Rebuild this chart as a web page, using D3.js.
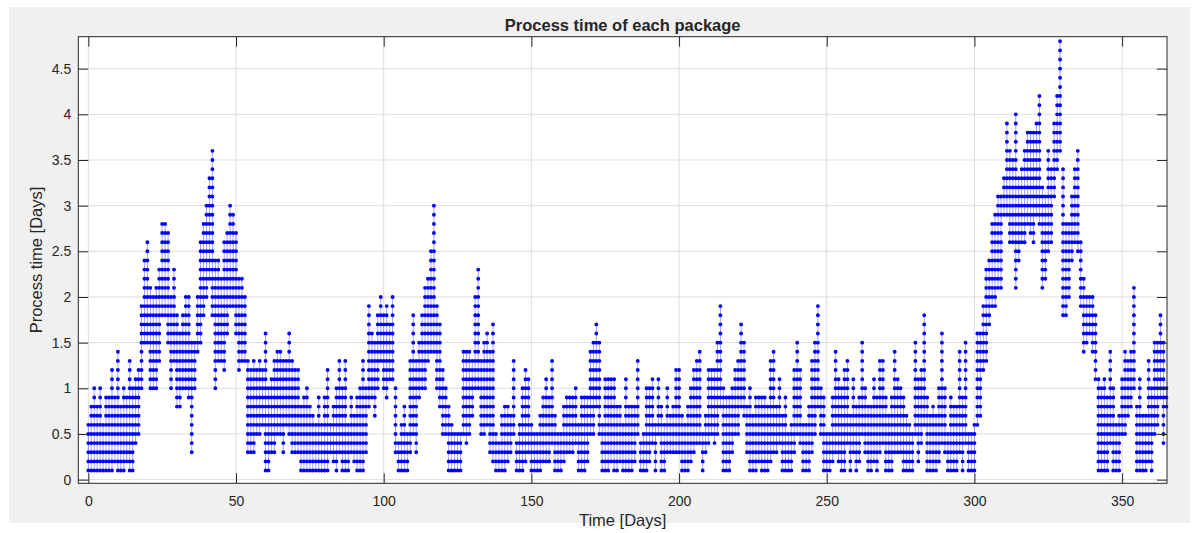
<html>
<head>
<meta charset="utf-8">
<title>Process time of each package</title>
<style>
  body { margin: 0; background: #fff; }
  text { font-family: "Liberation Sans", Arial, Helvetica, sans-serif; fill: #262626; }
</style>
<script src="https://d3js.org/d3.v7.min.js"></script>
</head>
<body>
<svg width="1197" height="533"></svg>
<script>
// upper and lower value of each day's column (days 0..365)
var hiVals = [
  0.6,0.8,1.0,0.8,1.0,0.6,0.9,0.9,1.2,0.9, 1.4,0.8,1.0,0.9,1.3,1.0,1.1,1.2,1.9,2.4,
  2.6,2.1,2.0,2.1,2.3,2.8,2.8,2.7,2.0,2.3, 1.8,1.6,1.8,2.0,2.0,1.5,1.5,2.0,2.6,2.8,
  3.0,3.3,3.6,2.4,2.4, 2.2,2.6,2.7,3.0,2.9, 2.7,2.2,2.2,2.0,1.3,1.2,1.3,1.2,1.3,1.2,
  1.6,1.0,1.1,1.3,1.4,1.4,1.3,1.3,1.6,1.3, 1.2,1.2,0.8,0.9,1.0,0.8,0.7,0.6,0.9,0.6,
  0.9,1.2,0.6,0.8,1.0,1.3,1.0,1.3,0.6,0.9, 0.7,0.9,1.0,1.3,1.0,1.9,1.6,1.5,1.8,2.0,
  1.8,1.9,1.7,2.0,1.0,0.4,0.6,0.8,0.5,1.3, 1.8,1.3,1.5,1.8,2.1,2.2,2.5,3.0,1.9,1.7,
  1.2,1.0,0.8,0.6,0.5,0.5,0.5,1.4,1.4,1.4, 1.3,2.0,2.3,1.3,1.5,1.6,1.4,1.7,0.5,0.4,
  0.7,0.8,0.8,0.7,1.3,0.4,0.6,1.0,1.2,1.1, 0.6,0.5,0.5,0.7,0.9,1.1,0.9,1.3,0.7,0.5,
  0.5,0.8,0.9,0.9,0.9,1.0,0.6,0.9,0.9,0.9, 1.4,1.5,1.7,1.5,0.6,1.1,1.1,1.1,1.1,0.8,
  0.8,0.6,
  1.1,0.8,0.8,0.8,1.3,0.4,0.5,1.0,1.0,1.1, 0.6,1.1,0.8,0.6,1.0,0.7,0.8,1.2,1.2,0.7,
  0.6,0.8,1.0,1.2,1.3,1.4,0.5,0.7,1.2,1.2, 1.2,1.5,1.9,1.0,0.9,0.9,1.0,1.2,1.3,1.7,
  1.5,0.8,1.0,0.7,0.9,0.9,0.9,
  0.9,0.8,1.3,1.4,0.8,1.1,0.7,0.9,0.5,0.6, 1.2,1.5,1.2,0.6,0.6,0.8,1.3,1.5,1.9,1.0,
  0.9,0.5,0.5,0.9,1.4,1.1,1.0,1.2,1.3,0.7, 1.1,0.8,0.9,1.5,1.0,0.8,0.8,1.1,0.9,1.3,
  1.3,0.9,0.7,0.9,
  1.4,1.1,1.0,0.9,0.7,0.6,0.5,1.5,1.1,1.2, 1.8,0.9,0.7,0.8,0.7,1.0,1.6,1.0,0.5,0.9,
  0.8,0.8,1.4,0.9,1.5,0.5,0.5,0.6,1.6,1.6, 1.9,2.3,2.4,2.8,2.9,3.1,3.1,3.3,3.9,3.6,
  3.5,4.0,3.3,3.4,3.6,3.8,
  3.8,3.8,3.9,4.2,3.2,3.1,3.6,3.4,3.9,4.2, 4.8,3.4,2.8,2.8,3.1,3.4,3.6,2.6,2.2,2.0,
  2.0,2.0,1.8,1.1,1.0,1.1,0.9,1.4,1.0,0.6, 0.7,1.1,1.4,1.3,1.4,2.1,0.8,1.1,0.7,0.7,
  1.3,1.0,1.5,1.5,1.8,1.5,1.0
];
var loVals = [
  0.1,0.1,0.1,0.1,0.1,0.1,0.1,0.1,0.1,0.2, 0.1,0.1,0.1,0.2,0.1,0.1,0.4,0.5,1.0,1.5,
  1.5,1.0,1.0,1.0,1.3,1.8,1.8,1.5,1.0,1.3, 0.8,0.8,1.0,1.0,0.9,0.3,1.0,1.4,1.5,1.8,
  2.0,2.2,1.8,1.0,1.3, 1.3,1.2,1.6,1.9,1.9, 1.6,1.2,1.3,1.3,0.3,0.3,0.3,0.5,0.5,0.6,
  0.1,0.1,0.3,0.3,0.5,0.5,0.3,0.6,0.5,0.3, 0.3,0.3,0.1,0.1,0.1,0.1,0.1,0.1,0.1,0.1,
  0.1,0.1,0.3,0.2,0.1,0.3,0.1,0.1,0.1,0.3, 0.2,0.1,0.1,0.1,0.3,0.8,0.9,0.7,1.0,1.3,
  1.0,0.9,1.1,1.1,0.3,0.1,0.1,0.1,0.1,0.3, 0.5,0.3,0.9,1.0,1.0,1.3,1.4,1.4,1.0,0.8,
  0.5,0.5,0.1,0.1,0.1,0.1,0.1,0.5,0.4,0.5, 0.7,1.0,1.0,0.5,0.5,0.6,0.3,0.2,0.1,0.1,
  0.1,0.1,0.2,0.3,0.5,0.1,0.1,0.1,0.2,0.3, 0.1,0.1,0.1,0.1,0.2,0.2,0.2,0.4,0.1,0.1,
  0.1,0.2,0.3,0.3,0.3,0.4,0.1,0.1,0.1,0.2, 0.5,0.5,0.8,0.5,0.1,0.1,0.1,0.2,0.1,0.1,
  0.2,0.1,
  0.1,0.1,0.1,0.2,0.5,0.1,0.1,0.1,0.2,0.4, 0.1,0.5,0.1,0.1,0.3,0.3,0.3,0.3,0.3,0.1,
  0.1,0.1,0.2,0.3,0.4,0.4,0.1,0.3,0.4,0.5, 0.4,0.5,0.8,0.1,0.1,0.1,0.3,0.5,0.5,0.8,
  0.7,0.3,0.1,0.1,0.1,0.2,0.1,
  0.1,0.1,0.2,0.3,0.3,0.4,0.1,0.1,0.1,0.1, 0.3,0.5,0.4,0.1,0.1,0.1,0.3,0.5,0.8,0.5,
  0.1,0.1,0.1,0.2,0.3,0.2,0.1,0.1,0.4,0.1, 0.3,0.1,0.2,0.5,0.3,0.1,0.1,0.2,0.1,0.3,
  0.4,0.1,0.1,0.1,
  0.3,0.3,0.3,0.1,0.1,0.1,0.1,0.5,0.2,0.4, 0.6,0.1,0.1,0.1,0.1,0.2,0.4,0.3,0.1,0.1,
  0.1,0.1,0.3,0.1,0.4,0.1,0.1,0.1,0.6,0.7, 1.2,1.3,1.7,1.9,1.9,2.1,2.1,2.9,2.9,2.6,
  2.6,2.1,2.4,2.6,2.6,2.8,
  2.7,2.6,2.9,2.8,2.1,2.2,2.5,2.6,3.1,3.4, 3.6,1.8,1.8,2.0,2.4,2.6,2.5,1.9,1.4,1.5,
  1.6,1.4,1.1,0.1,0.1,0.1,0.1,0.4,0.1,0.1, 0.1,0.5,0.5,0.7,0.8,1.0,0.1,0.1,0.1,0.1,
  0.2,0.1,0.5,0.6,0.9,0.4,0.8
];
var xTicks = [0, 50, 100, 150, 200, 250, 300, 350];
var yTicks = [0, 0.5, 1, 1.5, 2, 2.5, 3, 3.5, 4, 4.5];
var valueStep = 0.1;   // spacing of the markers along each column

var svg = d3.select("svg");
var pLeft = 78.3, pRight = 1167, pTop = 36.7, pBottom = 483.3;

var x = d3.scaleLinear().domain([-3.4, 365.2]).range([pLeft, pRight]);
var y = d3.scaleLinear().domain([-0.04, 4.85]).range([pBottom, pTop]);

var data = hiVals.map(function(h, i) { return {day: i, hi: h, lo: loVals[i]}; });

// figure background
svg.append("rect").attr("x", 9).attr("y", 7).attr("width", 1181).attr("height", 516).attr("fill", "#f0f0f0");
svg.append("rect").attr("x", pLeft).attr("y", pTop).attr("width", pRight - pLeft).attr("height", pBottom - pTop).attr("fill", "#fff");

// grid
var grid = svg.append("g").attr("stroke", "#dedede").attr("stroke-width", 1);
grid.selectAll(".gx").data(xTicks).enter().append("line")
  .attr("x1", d => x(d)).attr("x2", d => x(d)).attr("y1", pTop).attr("y2", pBottom);
grid.selectAll(".gy").data(yTicks).enter().append("line")
  .attr("x1", pLeft).attr("x2", pRight).attr("y1", d => y(d)).attr("y2", d => y(d));

var plot = svg.append("g");
// connecting lines of each column
plot.selectAll(".col").data(data).enter().append("line")
  .attr("x1", d => x(d.day)).attr("x2", d => x(d.day))
  .attr("y1", d => y(d.lo)).attr("y2", d => y(d.hi))
  .attr("stroke", "#0000ff").attr("stroke-opacity", 0.45).attr("stroke-width", 0.8);
// markers: dots every 0.1 along the column
var stepPx = y(0) - y(valueStep);
plot.selectAll(".dots").data(data).enter().append("line")
  .attr("x1", d => x(d.day)).attr("x2", d => x(d.day))
  .attr("y1", d => y(d.lo)).attr("y2", d => y(d.hi) - 0.5)
  .attr("stroke", "#0000ff").attr("stroke-width", 3.9)
  .attr("stroke-linecap", "round")
  .attr("stroke-dasharray", "0," + stepPx);

// axes with inward ticks
function styleAxis(g) {
  g.select(".domain").remove();
  g.selectAll(".tick line").attr("stroke", "#262626");
  g.selectAll(".tick text").attr("fill", "#262626").style("font-size", "14px")
    .style("font-family", "'Liberation Sans', Arial, Helvetica, sans-serif");
}
svg.append("g").attr("transform", "translate(0," + pBottom + ")")
  .call(d3.axisBottom(x).tickValues(xTicks).tickSize(-10).tickPadding(13).tickFormat(d3.format("d")))
  .call(styleAxis);
svg.append("g").attr("transform", "translate(0," + pTop + ")")
  .call(d3.axisTop(x).tickValues(xTicks).tickSize(-10).tickFormat(""))
  .call(styleAxis);
svg.append("g").attr("transform", "translate(" + pLeft + ",0)")
  .call(d3.axisLeft(y).tickValues(yTicks).tickSize(-10).tickPadding(7).tickFormat(d => d3.format("")(d)))
  .call(styleAxis);
svg.append("g").attr("transform", "translate(" + pRight + ",0)")
  .call(d3.axisRight(y).tickValues(yTicks).tickSize(-10).tickFormat(""))
  .call(styleAxis);

svg.append("rect").attr("x", pLeft).attr("y", pTop).attr("width", pRight - pLeft).attr("height", pBottom - pTop)
  .attr("fill", "none").attr("stroke", "#262626").attr("stroke-width", 1);

// titles
svg.append("text").attr("x", (pLeft + pRight) / 2).attr("y", 31)
  .attr("text-anchor", "middle").style("font-size", "16.5px").style("font-weight", "bold")
  .text("Process time of each package");
svg.append("text").attr("x", (pLeft + pRight) / 2).attr("y", 526)
  .attr("text-anchor", "middle").style("font-size", "16.5px")
  .text("Time [Days]");
svg.append("text").attr("transform", "translate(42," + (pTop + pBottom) / 2 + ") rotate(-90)")
  .attr("text-anchor", "middle").style("font-size", "16.5px")
  .text("Process time [Days]");
</script>
</body>
</html>
